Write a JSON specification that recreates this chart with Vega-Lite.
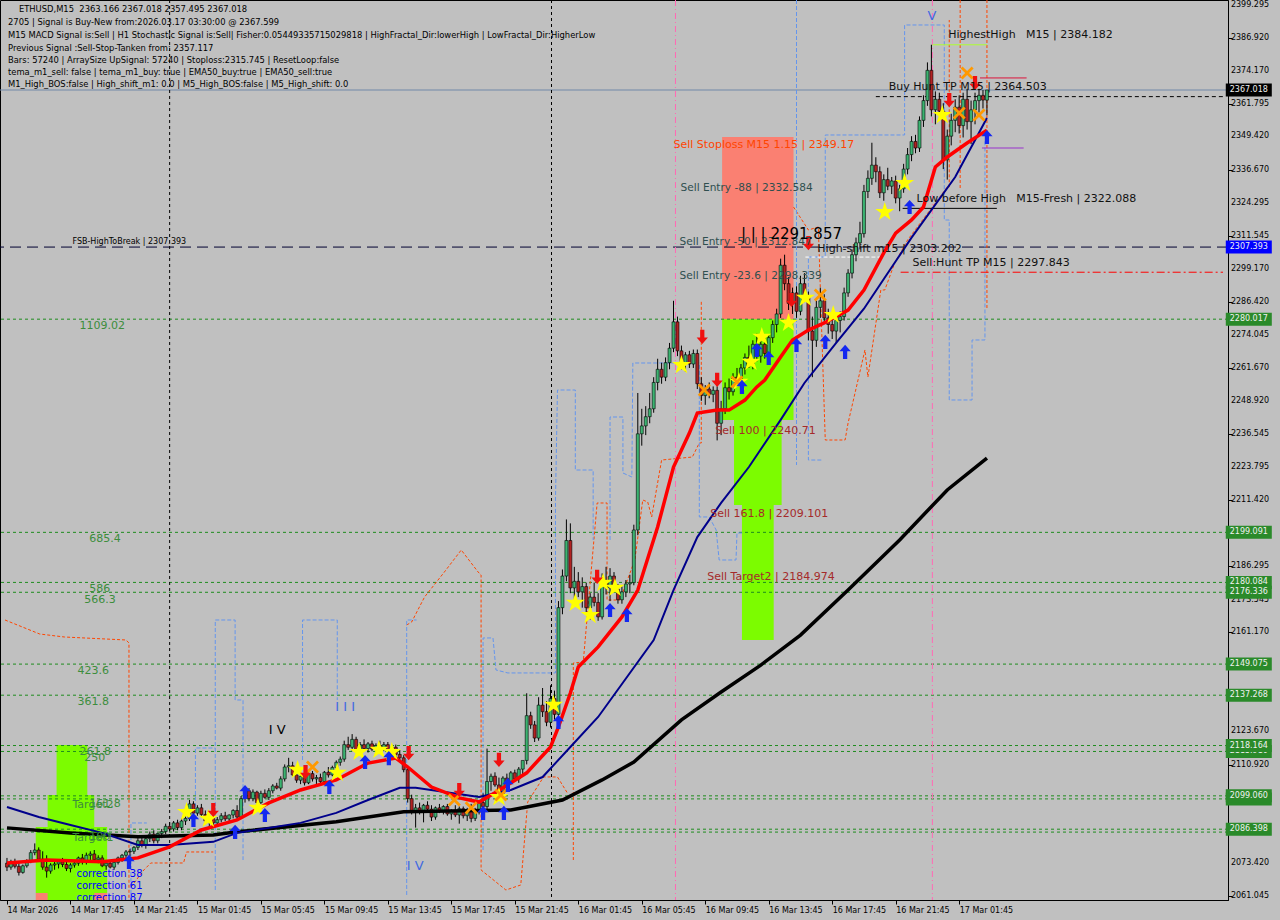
{
"$schema": "https://vega.github.io/schema/vega-lite/v6.json",
"width": 1228, "height": 900,
"autosize": {"type": "none"},
"padding": {"left": 0, "top": 0, "right": 52, "bottom": 20},
"background": "#C0C0C0",
"config": {"view": {"stroke": "#000000", "strokeWidth": 1}, "font": "DejaVu Sans"},
"datasets": {
"candles": [
{"i":0,"o":2073.5,"h":2075.5,"l":2070.5,"c":2072.0},{"i":1,"o":2072.0,"h":2074.8,"l":2071.0,"c":2074.0},{"i":2,"o":2074.0,"h":2075.2,"l":2071.5,"c":2072.3},{"i":3,"o":2072.3,"h":2073.5,"l":2068.8,"c":2070.0},{"i":4,"o":2070.0,"h":2073.0,"l":2069.5,"c":2072.5},{"i":5,"o":2072.5,"h":2075.0,"l":2071.8,"c":2074.5},{"i":6,"o":2074.5,"h":2078.5,"l":2073.5,"c":2077.5},{"i":7,"o":2077.5,"h":2081.0,"l":2076.5,"c":2078.5},{"i":8,"o":2078.5,"h":2079.5,"l":2074.0,"c":2075.0},{"i":9,"o":2075.0,"h":2078.0,"l":2071.0,"c":2072.0},
{"i":10,"o":2072.0,"h":2076.5,"l":2068.0,"c":2070.5},{"i":11,"o":2070.5,"h":2073.5,"l":2069.5,"c":2072.8},{"i":12,"o":2072.8,"h":2074.5,"l":2071.0,"c":2073.2},{"i":13,"o":2073.2,"h":2075.0,"l":2071.5,"c":2074.0},{"i":14,"o":2074.0,"h":2075.5,"l":2072.0,"c":2073.0},{"i":15,"o":2073.0,"h":2074.0,"l":2070.5,"c":2071.5},{"i":16,"o":2071.5,"h":2073.5,"l":2070.0,"c":2072.8},{"i":17,"o":2072.8,"h":2074.5,"l":2071.8,"c":2073.5},{"i":18,"o":2073.5,"h":2076.0,"l":2072.5,"c":2075.5},{"i":19,"o":2075.5,"h":2077.0,"l":2073.0,"c":2074.0},
{"i":20,"o":2074.0,"h":2077.5,"l":2073.0,"c":2076.5},{"i":21,"o":2076.5,"h":2078.0,"l":2074.5,"c":2077.0},{"i":22,"o":2077.0,"h":2078.5,"l":2074.0,"c":2074.8},{"i":23,"o":2074.8,"h":2076.5,"l":2073.5,"c":2075.5},{"i":24,"o":2075.5,"h":2076.5,"l":2072.0,"c":2072.5},{"i":25,"o":2072.5,"h":2074.0,"l":2071.0,"c":2073.5},{"i":26,"o":2073.5,"h":2074.5,"l":2071.5,"c":2072.0},{"i":27,"o":2072.0,"h":2074.0,"l":2071.0,"c":2073.8},{"i":28,"o":2073.8,"h":2076.0,"l":2073.0,"c":2075.5},{"i":29,"o":2075.5,"h":2077.0,"l":2074.0,"c":2076.5},
{"i":30,"o":2076.5,"h":2078.5,"l":2075.5,"c":2077.8},{"i":31,"o":2077.8,"h":2079.0,"l":2076.0,"c":2078.0},{"i":32,"o":2078.0,"h":2080.0,"l":2077.0,"c":2079.5},{"i":33,"o":2079.5,"h":2083.0,"l":2078.5,"c":2082.0},{"i":34,"o":2082.0,"h":2084.0,"l":2079.5,"c":2080.5},{"i":35,"o":2080.5,"h":2083.5,"l":2079.0,"c":2082.8},{"i":36,"o":2082.8,"h":2085.5,"l":2081.5,"c":2084.5},{"i":37,"o":2084.5,"h":2086.0,"l":2081.0,"c":2082.0},{"i":38,"o":2082.0,"h":2085.0,"l":2081.0,"c":2084.8},{"i":39,"o":2084.8,"h":2086.5,"l":2083.0,"c":2085.5},
{"i":40,"o":2085.5,"h":2088.5,"l":2084.5,"c":2087.5},{"i":41,"o":2087.5,"h":2089.0,"l":2085.5,"c":2086.5},{"i":42,"o":2086.5,"h":2089.5,"l":2085.5,"c":2088.8},{"i":43,"o":2088.8,"h":2090.0,"l":2086.0,"c":2087.0},{"i":44,"o":2087.0,"h":2090.5,"l":2086.0,"c":2089.5},{"i":45,"o":2089.5,"h":2092.0,"l":2088.0,"c":2090.5},{"i":46,"o":2090.5,"h":2097.5,"l":2089.5,"c":2096.0},{"i":47,"o":2096.0,"h":2097.0,"l":2091.0,"c":2092.5},{"i":48,"o":2092.5,"h":2095.5,"l":2091.5,"c":2094.5},{"i":49,"o":2094.5,"h":2096.0,"l":2091.0,"c":2092.0},
{"i":50,"o":2092.0,"h":2093.5,"l":2088.5,"c":2089.5},{"i":51,"o":2089.5,"h":2091.5,"l":2087.0,"c":2090.5},{"i":52,"o":2090.5,"h":2092.0,"l":2088.0,"c":2088.8},{"i":53,"o":2088.8,"h":2091.0,"l":2087.5,"c":2090.0},{"i":54,"o":2090.0,"h":2092.5,"l":2089.0,"c":2091.5},{"i":55,"o":2091.5,"h":2093.0,"l":2089.5,"c":2090.3},{"i":56,"o":2090.3,"h":2092.0,"l":2089.0,"c":2091.8},{"i":57,"o":2091.8,"h":2094.0,"l":2090.5,"c":2093.5},{"i":58,"o":2093.5,"h":2095.5,"l":2090.0,"c":2091.0},{"i":59,"o":2091.0,"h":2099.0,"l":2090.5,"c":2098.0},
{"i":60,"o":2098.0,"h":2102.5,"l":2096.5,"c":2101.0},{"i":61,"o":2101.0,"h":2102.0,"l":2097.0,"c":2098.0},{"i":62,"o":2098.0,"h":2101.5,"l":2097.0,"c":2100.5},{"i":63,"o":2100.5,"h":2101.0,"l":2095.5,"c":2096.5},{"i":64,"o":2096.5,"h":2101.0,"l":2096.0,"c":2100.0},{"i":65,"o":2100.0,"h":2101.5,"l":2098.0,"c":2098.5},{"i":66,"o":2098.5,"h":2102.0,"l":2097.5,"c":2101.0},{"i":67,"o":2101.0,"h":2103.5,"l":2100.0,"c":2102.8},{"i":68,"o":2102.8,"h":2104.0,"l":2101.5,"c":2102.0},{"i":69,"o":2102.0,"h":2106.5,"l":2101.0,"c":2105.5},
{"i":70,"o":2105.5,"h":2111.0,"l":2104.5,"c":2110.0},{"i":71,"o":2110.0,"h":2113.5,"l":2108.0,"c":2110.5},{"i":72,"o":2110.5,"h":2112.0,"l":2106.5,"c":2107.0},{"i":73,"o":2107.0,"h":2108.5,"l":2104.0,"c":2105.0},{"i":74,"o":2105.0,"h":2107.5,"l":2103.5,"c":2106.5},{"i":75,"o":2106.5,"h":2107.5,"l":2103.0,"c":2104.0},{"i":76,"o":2104.0,"h":2108.0,"l":2103.5,"c":2107.5},{"i":77,"o":2107.5,"h":2108.5,"l":2104.5,"c":2105.5},{"i":78,"o":2105.5,"h":2107.0,"l":2103.5,"c":2106.0},{"i":79,"o":2106.0,"h":2107.5,"l":2103.5,"c":2104.5},
{"i":80,"o":2104.5,"h":2108.5,"l":2104.0,"c":2108.0},{"i":81,"o":2108.0,"h":2110.0,"l":2106.0,"c":2107.0},{"i":82,"o":2107.0,"h":2110.5,"l":2106.5,"c":2109.8},{"i":83,"o":2109.8,"h":2112.5,"l":2109.0,"c":2111.8},{"i":84,"o":2111.8,"h":2114.0,"l":2110.5,"c":2113.0},{"i":85,"o":2113.0,"h":2120.0,"l":2112.0,"c":2118.5},{"i":86,"o":2118.5,"h":2121.5,"l":2116.5,"c":2117.5},{"i":87,"o":2117.5,"h":2122.5,"l":2116.0,"c":2120.5},{"i":88,"o":2120.5,"h":2121.5,"l":2115.5,"c":2116.5},{"i":89,"o":2116.5,"h":2119.5,"l":2115.0,"c":2118.5},
{"i":90,"o":2118.5,"h":2120.5,"l":2116.5,"c":2117.0},{"i":91,"o":2117.0,"h":2119.5,"l":2115.5,"c":2118.8},{"i":92,"o":2118.8,"h":2120.0,"l":2116.0,"c":2116.8},{"i":93,"o":2116.8,"h":2119.0,"l":2115.5,"c":2118.2},{"i":94,"o":2118.2,"h":2120.0,"l":2116.5,"c":2117.3},{"i":95,"o":2117.3,"h":2119.5,"l":2116.0,"c":2118.5},{"i":96,"o":2118.5,"h":2119.5,"l":2115.5,"c":2116.2},{"i":97,"o":2116.2,"h":2118.5,"l":2115.0,"c":2117.5},{"i":98,"o":2117.5,"h":2118.5,"l":2114.0,"c":2114.8},{"i":99,"o":2114.8,"h":2116.5,"l":2112.5,"c":2113.5},
{"i":100,"o":2113.5,"h":2114.5,"l":2108.0,"c":2109.0},{"i":101,"o":2109.0,"h":2110.5,"l":2096.5,"c":2098.0},{"i":102,"o":2098.0,"h":2099.5,"l":2092.0,"c":2093.5},{"i":103,"o":2093.5,"h":2096.0,"l":2087.0,"c":2094.5},{"i":104,"o":2094.5,"h":2096.5,"l":2092.0,"c":2092.8},{"i":105,"o":2092.8,"h":2096.0,"l":2089.0,"c":2095.5},{"i":106,"o":2095.5,"h":2097.0,"l":2093.0,"c":2094.0},{"i":107,"o":2094.0,"h":2095.5,"l":2089.5,"c":2091.0},{"i":108,"o":2091.0,"h":2095.0,"l":2090.0,"c":2094.5},{"i":109,"o":2094.5,"h":2096.0,"l":2092.5,"c":2093.3},
{"i":110,"o":2093.3,"h":2095.5,"l":2092.0,"c":2095.0},{"i":111,"o":2095.0,"h":2096.0,"l":2091.5,"c":2092.2},{"i":112,"o":2092.2,"h":2094.0,"l":2090.0,"c":2093.5},{"i":113,"o":2093.5,"h":2095.5,"l":2091.0,"c":2091.8},{"i":114,"o":2091.8,"h":2095.0,"l":2088.5,"c":2094.2},{"i":115,"o":2094.2,"h":2095.0,"l":2090.5,"c":2091.5},{"i":116,"o":2091.5,"h":2094.5,"l":2089.5,"c":2093.8},{"i":117,"o":2093.8,"h":2096.0,"l":2089.0,"c":2090.5},{"i":118,"o":2090.5,"h":2094.5,"l":2089.5,"c":2093.0},{"i":119,"o":2093.0,"h":2097.5,"l":2092.0,"c":2096.5},
{"i":120,"o":2096.5,"h":2100.0,"l":2094.0,"c":2095.0},{"i":121,"o":2095.0,"h":2117.0,"l":2094.0,"c":2104.5},{"i":122,"o":2104.5,"h":2107.5,"l":2101.0,"c":2106.5},{"i":123,"o":2106.5,"h":2108.0,"l":2102.5,"c":2103.2},{"i":124,"o":2103.2,"h":2106.0,"l":2098.0,"c":2100.0},{"i":125,"o":2100.0,"h":2106.5,"l":2099.0,"c":2105.8},{"i":126,"o":2105.8,"h":2107.5,"l":2103.5,"c":2104.5},{"i":127,"o":2104.5,"h":2108.5,"l":2103.5,"c":2107.8},{"i":128,"o":2107.8,"h":2109.0,"l":2104.5,"c":2105.5},{"i":129,"o":2105.5,"h":2110.0,"l":2104.0,"c":2109.2},
{"i":130,"o":2109.2,"h":2111.5,"l":2107.0,"c":2112.5},{"i":131,"o":2112.5,"h":2138.0,"l":2111.0,"c":2129.5},{"i":132,"o":2129.5,"h":2131.0,"l":2124.5,"c":2126.0},{"i":133,"o":2126.0,"h":2127.5,"l":2119.5,"c":2121.0},{"i":134,"o":2121.0,"h":2136.5,"l":2120.0,"c":2133.5},{"i":135,"o":2133.5,"h":2140.0,"l":2129.0,"c":2131.0},{"i":136,"o":2131.0,"h":2135.0,"l":2125.5,"c":2127.0},{"i":137,"o":2127.0,"h":2141.0,"l":2125.0,"c":2136.0},{"i":138,"o":2136.0,"h":2139.0,"l":2128.0,"c":2130.0},{"i":139,"o":2130.0,"h":2173.0,"l":2129.0,"c":2170.5},
{"i":140,"o":2170.5,"h":2185.0,"l":2168.0,"c":2182.5},{"i":141,"o":2182.5,"h":2204.0,"l":2180.5,"c":2196.0},{"i":142,"o":2196.0,"h":2202.5,"l":2176.0,"c":2178.0},{"i":143,"o":2178.0,"h":2186.0,"l":2172.0,"c":2180.5},{"i":144,"o":2180.5,"h":2184.0,"l":2174.5,"c":2176.5},{"i":145,"o":2176.5,"h":2182.0,"l":2170.5,"c":2178.5},{"i":146,"o":2178.5,"h":2180.0,"l":2168.0,"c":2170.5},{"i":147,"o":2170.5,"h":2176.0,"l":2166.0,"c":2174.5},{"i":148,"o":2174.5,"h":2180.0,"l":2171.0,"c":2172.5},{"i":149,"o":2172.5,"h":2176.0,"l":2165.5,"c":2167.0},
{"i":150,"o":2167.0,"h":2183.5,"l":2166.0,"c":2181.0},{"i":151,"o":2181.0,"h":2186.0,"l":2175.5,"c":2178.0},{"i":152,"o":2178.0,"h":2185.5,"l":2173.0,"c":2182.5},{"i":153,"o":2182.5,"h":2184.0,"l":2176.5,"c":2177.5},{"i":154,"o":2177.5,"h":2179.5,"l":2172.0,"c":2173.5},{"i":155,"o":2173.5,"h":2178.5,"l":2172.0,"c":2176.5},{"i":156,"o":2176.5,"h":2181.0,"l":2174.5,"c":2179.5},{"i":157,"o":2179.5,"h":2183.0,"l":2176.0,"c":2180.0},{"i":158,"o":2180.0,"h":2202.0,"l":2179.0,"c":2200.0},{"i":159,"o":2200.0,"h":2252.0,"l":2198.0,"c":2236.5},
{"i":160,"o":2236.5,"h":2246.0,"l":2232.0,"c":2239.5},{"i":161,"o":2239.5,"h":2247.0,"l":2236.0,"c":2243.0},{"i":162,"o":2243.0,"h":2252.0,"l":2240.5,"c":2246.0},{"i":163,"o":2246.0,"h":2258.0,"l":2244.5,"c":2256.0},{"i":164,"o":2256.0,"h":2265.0,"l":2253.0,"c":2261.0},{"i":165,"o":2261.0,"h":2263.5,"l":2255.5,"c":2258.0},{"i":166,"o":2258.0,"h":2265.5,"l":2256.5,"c":2263.5},{"i":167,"o":2263.5,"h":2271.0,"l":2261.0,"c":2269.0},{"i":168,"o":2269.0,"h":2287.0,"l":2267.5,"c":2279.0},{"i":169,"o":2279.0,"h":2281.0,"l":2266.0,"c":2268.0},
{"i":170,"o":2268.0,"h":2270.0,"l":2261.0,"c":2263.5},{"i":171,"o":2263.5,"h":2267.5,"l":2260.0,"c":2266.5},{"i":172,"o":2266.5,"h":2268.0,"l":2261.5,"c":2263.0},{"i":173,"o":2263.0,"h":2268.5,"l":2261.5,"c":2267.0},{"i":174,"o":2267.0,"h":2268.5,"l":2253.5,"c":2255.5},{"i":175,"o":2255.5,"h":2258.0,"l":2249.0,"c":2251.0},{"i":176,"o":2251.0,"h":2255.0,"l":2247.5,"c":2253.5},{"i":177,"o":2253.5,"h":2256.0,"l":2250.0,"c":2251.5},{"i":178,"o":2251.5,"h":2254.5,"l":2248.5,"c":2253.0},{"i":179,"o":2253.0,"h":2254.5,"l":2234.0,"c":2240.5},
{"i":180,"o":2240.5,"h":2249.0,"l":2236.0,"c":2246.0},{"i":181,"o":2246.0,"h":2256.0,"l":2244.0,"c":2254.0},{"i":182,"o":2254.0,"h":2257.5,"l":2249.5,"c":2252.5},{"i":183,"o":2252.5,"h":2259.5,"l":2251.0,"c":2258.0},{"i":184,"o":2258.0,"h":2261.5,"l":2254.5,"c":2256.5},{"i":185,"o":2256.5,"h":2263.0,"l":2255.0,"c":2261.5},{"i":186,"o":2261.5,"h":2267.0,"l":2259.0,"c":2265.5},{"i":187,"o":2265.5,"h":2270.0,"l":2261.5,"c":2263.0},{"i":188,"o":2263.0,"h":2272.0,"l":2261.0,"c":2270.5},{"i":189,"o":2270.5,"h":2274.5,"l":2264.0,"c":2266.0},
{"i":190,"o":2266.0,"h":2272.0,"l":2263.5,"c":2270.5},{"i":191,"o":2270.5,"h":2273.0,"l":2265.0,"c":2267.0},{"i":192,"o":2267.0,"h":2274.0,"l":2266.0,"c":2273.0},{"i":193,"o":2273.0,"h":2279.5,"l":2271.0,"c":2278.0},{"i":194,"o":2278.0,"h":2284.0,"l":2275.0,"c":2282.0},{"i":195,"o":2282.0,"h":2303.0,"l":2280.5,"c":2300.5},{"i":196,"o":2300.5,"h":2304.5,"l":2291.0,"c":2293.5},{"i":197,"o":2293.5,"h":2296.0,"l":2283.5,"c":2286.0},{"i":198,"o":2286.0,"h":2292.0,"l":2282.0,"c":2290.0},{"i":199,"o":2290.0,"h":2292.5,"l":2280.5,"c":2283.0},
{"i":200,"o":2283.0,"h":2296.5,"l":2281.5,"c":2293.5},{"i":201,"o":2293.5,"h":2297.5,"l":2286.5,"c":2288.5},{"i":202,"o":2288.5,"h":2290.5,"l":2272.0,"c":2275.5},{"i":203,"o":2275.5,"h":2281.0,"l":2258.0,"c":2272.0},{"i":204,"o":2272.0,"h":2287.0,"l":2269.5,"c":2284.5},{"i":205,"o":2284.5,"h":2292.0,"l":2280.5,"c":2287.0},{"i":206,"o":2287.0,"h":2289.5,"l":2278.5,"c":2280.5},{"i":207,"o":2280.5,"h":2284.0,"l":2274.5,"c":2278.0},{"i":208,"o":2278.0,"h":2282.5,"l":2272.5,"c":2275.5},{"i":209,"o":2275.5,"h":2280.5,"l":2271.0,"c":2279.5},
{"i":210,"o":2279.5,"h":2283.0,"l":2275.0,"c":2281.0},{"i":211,"o":2281.0,"h":2292.0,"l":2279.5,"c":2290.0},{"i":212,"o":2290.0,"h":2299.0,"l":2288.5,"c":2297.5},{"i":213,"o":2297.5,"h":2306.5,"l":2295.5,"c":2304.5},{"i":214,"o":2304.5,"h":2311.0,"l":2302.0,"c":2309.0},{"i":215,"o":2309.0,"h":2317.0,"l":2306.5,"c":2312.5},{"i":216,"o":2312.5,"h":2331.0,"l":2311.0,"c":2328.5},{"i":217,"o":2328.5,"h":2336.5,"l":2326.0,"c":2333.5},{"i":218,"o":2333.5,"h":2347.0,"l":2331.0,"c":2338.5},{"i":219,"o":2338.5,"h":2341.5,"l":2332.0,"c":2336.0},
{"i":220,"o":2336.0,"h":2338.0,"l":2326.0,"c":2328.0},{"i":221,"o":2328.0,"h":2335.0,"l":2325.0,"c":2333.0},{"i":222,"o":2333.0,"h":2337.5,"l":2329.0,"c":2330.5},{"i":223,"o":2330.5,"h":2334.0,"l":2327.5,"c":2332.5},{"i":224,"o":2332.5,"h":2334.5,"l":2324.0,"c":2326.0},{"i":225,"o":2326.0,"h":2331.0,"l":2321.0,"c":2329.5},{"i":226,"o":2329.5,"h":2339.0,"l":2328.0,"c":2337.0},{"i":227,"o":2337.0,"h":2345.0,"l":2335.0,"c":2342.5},{"i":228,"o":2342.5,"h":2349.5,"l":2340.0,"c":2347.5},{"i":229,"o":2347.5,"h":2350.0,"l":2343.0,"c":2345.0},
{"i":230,"o":2345.0,"h":2357.0,"l":2343.5,"c":2355.5},{"i":231,"o":2355.5,"h":2365.0,"l":2353.0,"c":2363.0},{"i":232,"o":2363.0,"h":2377.5,"l":2361.0,"c":2374.5},{"i":233,"o":2374.5,"h":2384.2,"l":2357.0,"c":2359.5},{"i":234,"o":2359.5,"h":2366.5,"l":2354.0,"c":2363.5},{"i":235,"o":2363.5,"h":2366.0,"l":2357.5,"c":2359.0},{"i":236,"o":2359.0,"h":2362.0,"l":2337.0,"c":2340.5},{"i":237,"o":2340.5,"h":2352.0,"l":2333.0,"c":2349.5},{"i":238,"o":2349.5,"h":2358.0,"l":2346.0,"c":2355.5},{"i":239,"o":2355.5,"h":2363.5,"l":2351.0,"c":2360.5},
{"i":240,"o":2360.5,"h":2365.0,"l":2350.5,"c":2353.5},{"i":241,"o":2353.5,"h":2366.0,"l":2349.0,"c":2363.5},{"i":242,"o":2363.5,"h":2367.5,"l":2352.0,"c":2355.0},{"i":243,"o":2355.0,"h":2363.0,"l":2346.5,"c":2359.5},{"i":244,"o":2359.5,"h":2366.0,"l":2354.0,"c":2363.0},{"i":245,"o":2363.0,"h":2367.5,"l":2358.5,"c":2365.0},{"i":246,"o":2365.0,"h":2367.0,"l":2360.0,"c":2363.2},{"i":247,"o":2363.166,"h":2367.018,"l":2357.495,"c":2367.018}
],
"emaFast": [
{"i":0,"p":2073.6},{"i":10,"p":2074.7},{"i":24,"p":2074.0},{"i":33,"p":2075.5},{"i":41,"p":2079.7},{"i":49,"p":2086.1},{"i":58,"p":2089.9},{"i":66,"p":2096.4},{"i":74,"p":2101.3},{"i":83,"p":2105.1},{"i":91,"p":2111.5},{"i":98,"p":2113.4},{"i":101,"p":2110.0},{"i":107,"p":2102.4},{"i":114,"p":2098.3},{"i":119,"p":2096.7},{"i":123,"p":2100.2},{"i":131,"p":2107.8},{"i":137,"p":2117.6},{"i":139,"p":2125.2},{"i":142,"p":2138.1},{"i":144,"p":2148.0},{"i":149,"p":2155.6},{"i":155,"p":2167.0},{"i":159,"p":2177.2},{"i":164,"p":2201.1},{"i":168,"p":2223.9},{"i":172,"p":2236.8},{"i":174,"p":2244.4},{"i":179,"p":2245.5},{"i":182,"p":2245.5},{"i":186,"p":2249.3},{"i":189,"p":2254.3},{"i":191,"p":2256.9},{"i":195,"p":2265.7},{"i":198,"p":2272.1},{"i":202,"p":2275.9},{"i":206,"p":2278.6},{"i":212,"p":2283.5},{"i":216,"p":2291.1},{"i":221,"p":2305.2},{"i":224,"p":2312.7},{"i":228,"p":2317.7},{"i":231,"p":2322.6},{"i":234,"p":2337.8},{"i":237,"p":2341.6},{"i":242,"p":2346.9},{"i":247,"p":2351.8}
],
"emaMid": [
{"i":0,"p":2094.8},{"i":8,"p":2091.0},{"i":16,"p":2088.0},{"i":24,"p":2085.0},{"i":33,"p":2080.4},{"i":41,"p":2080.4},{"i":52,"p":2081.6},{"i":58,"p":2085.0},{"i":74,"p":2088.8},{"i":83,"p":2092.6},{"i":91,"p":2097.5},{"i":99,"p":2102.1},{"i":103,"p":2102.1},{"i":119,"p":2098.6},{"i":127,"p":2101.3},{"i":135,"p":2106.2},{"i":142,"p":2117.6},{"i":149,"p":2129.0},{"i":163,"p":2158.2},{"i":168,"p":2177.2},{"i":174,"p":2197.3},{"i":180,"p":2210.3},{"i":187,"p":2223.9},{"i":195,"p":2241.8},{"i":201,"p":2255.8},{"i":209,"p":2271.0},{"i":216,"p":2284.0},{"i":220,"p":2293.0},{"i":224,"p":2302.0},{"i":228,"p":2311.0},{"i":239,"p":2334.0},{"i":247,"p":2356.4}
],
"emaSlow": [
{"i":0,"p":2086.9},{"i":16,"p":2085.0},{"i":33,"p":2083.5},{"i":52,"p":2084.2},{"i":58,"p":2085.4},{"i":83,"p":2089.2},{"i":100,"p":2093.0},{"i":127,"p":2093.7},{"i":131,"p":2094.8},{"i":140,"p":2097.5},{"i":150,"p":2105.1},{"i":158,"p":2111.9},{"i":170,"p":2127.9},{"i":180,"p":2138.5},{"i":190,"p":2148.7},{"i":200,"p":2160.1},{"i":212,"p":2177.2},{"i":225,"p":2196.2},{"i":237,"p":2215.2},{"i":247,"p":2227.3}
],
"bands": [
{"line":"o1","seq":1,"i":-0.5,"p":2165.82},{"line":"o1","seq":2,"i":8.25,"p":2160.5},{"line":"o1","seq":3,"i":14.5,"p":2159.36},{"line":"o1","seq":4,"i":30,"p":2158.23},{"line":"o1","seq":5,"i":30.75,"p":2157.09},{"line":"o1","seq":6,"i":30.75,"p":2059.52},
{"line":"o2","seq":1,"i":31.25,"p":2064.46},{"line":"o2","seq":2,"i":34.5,"p":2070.91},{"line":"o2","seq":3,"i":36.25,"p":2073.57},{"line":"o2","seq":4,"i":44.5,"p":2073.57},{"line":"o2","seq":5,"i":45.25,"p":2077.75},{"line":"o2","seq":6,"i":52,"p":2077.75},
{"line":"o3","seq":1,"i":100.75,"p":2163.92},{"line":"o3","seq":2,"i":102,"p":2165.06},{"line":"o3","seq":3,"i":105.25,"p":2174.55},{"line":"o3","seq":4,"i":110.25,"p":2184.04},{"line":"o3","seq":5,"i":114.5,"p":2192.39},{"line":"o3","seq":6,"i":118.75,"p":2184.04},{"line":"o3","seq":7,"i":119.5,"p":2182.9},{"line":"o3","seq":8,"i":119.5,"p":2070.91},{"line":"o3","seq":9,"i":125.75,"p":2063.32},{"line":"o3","seq":10,"i":129.5,"p":2065.22},{"line":"o3","seq":11,"i":131.25,"p":2096.72},{"line":"o3","seq":12,"i":135.25,"p":2106.23},{"line":"o3","seq":13,"i":138.75,"p":2106.23},{"line":"o3","seq":14,"i":141.25,"p":2100.15},
{"line":"o4","seq":1,"i":142.75,"p":2074.7},{"line":"o4","seq":2,"i":142.75,"p":2149.5},{"line":"o4","seq":3,"i":145.25,"p":2149.88},{"line":"o4","seq":4,"i":148.75,"p":2210.24},{"line":"o4","seq":5,"i":151.25,"p":2210.24},{"line":"o4","seq":6,"i":151.25,"p":2173.41},{"line":"o4","seq":7,"i":154.5,"p":2173.41},{"line":"o4","seq":8,"i":158.25,"p":2188.6},{"line":"o4","seq":9,"i":160.25,"p":2211.38},{"line":"o4","seq":10,"i":161.5,"p":2210.62},{"line":"o4","seq":11,"i":162.5,"p":2204.93},{"line":"o4","seq":12,"i":165,"p":2226.55},{"line":"o4","seq":13,"i":172.75,"p":2227.69},{"line":"o4","seq":14,"i":174.5,"p":2233.01},{"line":"o4","seq":15,"i":175,"p":2233.01},{"line":"o4","seq":16,"i":175,"p":2287.3},
{"line":"o6","seq":1,"i":198.25,"p":2322.61},{"line":"o6","seq":2,"i":202,"p":2313.88},{"line":"o6","seq":3,"i":204.5,"p":2315.02},{"line":"o6","seq":4,"i":206.25,"p":2234.15},{"line":"o6","seq":5,"i":211.25,"p":2234.15},{"line":"o6","seq":6,"i":212,"p":2240.6},{"line":"o6","seq":7,"i":213.75,"p":2251.99},{"line":"o6","seq":8,"i":216.25,"p":2268.32},{"line":"o6","seq":9,"i":217,"p":2258.07},{"line":"o6","seq":10,"i":220.25,"p":2291.1},{"line":"o6","seq":11,"i":221.25,"p":2291.1},{"line":"o6","seq":12,"i":223.75,"p":2301.35},{"line":"o6","seq":13,"i":227,"p":2310.08},{"line":"o6","seq":14,"i":237,"p":2330.2},{"line":"o6","seq":15,"i":237.5,"p":2330.2},{"line":"o6","seq":16,"i":237.5,"p":2393.6},
{"line":"o7","seq":1,"i":240.25,"p":2401.19},{"line":"o7","seq":2,"i":240.25,"p":2329.06},
{"line":"o8","seq":1,"i":247,"p":2401.19},{"line":"o8","seq":2,"i":247,"p":2283.5},
{"line":"b1","seq":1,"i":31.25,"p":2059.52},{"line":"b1","seq":2,"i":31.25,"p":2088.76},{"line":"b1","seq":3,"i":35.25,"p":2088.76},
{"line":"b2","seq":1,"i":47.5,"p":2094.83},{"line":"b2","seq":2,"i":47.5,"p":2117.23},{"line":"b2","seq":3,"i":52.5,"p":2117.23},
{"line":"b3","seq":1,"i":52.5,"p":2063.32},{"line":"b3","seq":2,"i":52.5,"p":2165.82},{"line":"b3","seq":3,"i":57.5,"p":2165.82},{"line":"b3","seq":4,"i":57.5,"p":2135.45},{"line":"b3","seq":5,"i":59.5,"p":2135.45},{"line":"b3","seq":6,"i":59.5,"p":2074.7},
{"line":"b4","seq":1,"i":74.5,"p":2112.67},{"line":"b4","seq":2,"i":74.5,"p":2165.82},{"line":"b4","seq":3,"i":83.25,"p":2165.82},{"line":"b4","seq":4,"i":83.25,"p":2135.45},
{"line":"b5","seq":1,"i":100.75,"p":2061.43},{"line":"b5","seq":2,"i":100.75,"p":2165.82},{"line":"b5","seq":3,"i":103.25,"p":2165.82},
{"line":"b6","seq":1,"i":120,"p":2078.51},{"line":"b6","seq":2,"i":120,"p":2159.0},{"line":"b6","seq":3,"i":122.5,"p":2159.0},{"line":"b6","seq":4,"i":123.25,"p":2146.85},{"line":"b6","seq":5,"i":126.25,"p":2145.71},{"line":"b6","seq":6,"i":138.25,"p":2145.71},{"line":"b6","seq":7,"i":138.25,"p":2211.38},{"line":"b6","seq":8,"i":138.75,"p":2253.13},{"line":"b6","seq":9,"i":143.25,"p":2253.13},{"line":"b6","seq":10,"i":143.25,"p":2222.76},{"line":"b6","seq":11,"i":147.75,"p":2222.76},{"line":"b6","seq":12,"i":147.75,"p":2196.19},
{"line":"b7","seq":1,"i":152,"p":2196.19},{"line":"b7","seq":2,"i":152,"p":2242.88},{"line":"b7","seq":3,"i":155.25,"p":2242.88},{"line":"b7","seq":4,"i":155.25,"p":2221.62},{"line":"b7","seq":5,"i":157.5,"p":2220.1},{"line":"b7","seq":6,"i":157.75,"p":2263.38},{"line":"b7","seq":7,"i":174.5,"p":2263.38},{"line":"b7","seq":8,"i":174.5,"p":2204.93},{"line":"b7","seq":9,"i":177,"p":2204.93},{"line":"b7","seq":10,"i":178.75,"p":2199.99},{"line":"b7","seq":11,"i":179.5,"p":2188.6},{"line":"b7","seq":12,"i":183.75,"p":2188.6},{"line":"b7","seq":13,"i":184,"p":2198.85},{"line":"b7","seq":14,"i":185.75,"p":2198.85},
{"line":"b8","seq":1,"i":199,"p":2401.19},{"line":"b8","seq":2,"i":199,"p":2224.66},
{"line":"b9","seq":1,"i":205.25,"p":2226.55},{"line":"b9","seq":2,"i":202,"p":2226.55},{"line":"b9","seq":3,"i":202,"p":2303.63},{"line":"b9","seq":4,"i":206.25,"p":2303.63},{"line":"b9","seq":5,"i":206.25,"p":2349.94},{"line":"b9","seq":6,"i":226.25,"p":2349.94},{"line":"b9","seq":7,"i":226.25,"p":2391.7},{"line":"b9","seq":8,"i":236.25,"p":2391.7},{"line":"b9","seq":9,"i":236.25,"p":2317.67},{"line":"b9","seq":10,"i":237.5,"p":2317.67},{"line":"b9","seq":11,"i":237.5,"p":2249.34},{"line":"b9","seq":12,"i":243.25,"p":2249.34},{"line":"b9","seq":13,"i":243.25,"p":2272.12},{"line":"b9","seq":14,"i":246.5,"p":2272.12},{"line":"b9","seq":15,"i":246.5,"p":2348.04}
],
"levels": [
{"p":2280.017,"kind":"fib"},{"p":2199.091,"kind":"fib"},{"p":2180.084,"kind":"fib"},{"p":2176.336,"kind":"fib"},{"p":2149.075,"kind":"fib"},{"p":2137.268,"kind":"fib"},{"p":2118.164,"kind":"fib"},{"p":2115.91,"kind":"fib"},{"p":2099.06,"kind":"fib"},{"p":2097.9,"kind":"fib"},{"p":2086.398,"kind":"fib"},{"p":2085.3,"kind":"fib"},
{"p":2307.393,"kind":"fsb"},{"p":2367.018,"kind":"price"}
],
"segments": [
{"i1":225.25,"i2":306.5,"p":2297.843,"kind":"sellhunt"},
{"i1":219,"i2":306.5,"p":2364.503,"kind":"buyhunt"},
{"i1":225.75,"i2":249.5,"p":2322.088,"kind":"lowbefore"},
{"i1":233.25,"i2":247,"p":2384.182,"kind":"highest"},
{"i1":245.25,"i2":257,"p":2371.6,"kind":"crimson"},
{"i1":245.75,"i2":256.25,"p":2345.0,"kind":"purple"},
{"i1":201.25,"i2":220.25,"p":2303.6,"kind":"highshift"}
],
"vlines": [
{"i":41,"kind":"day"},{"i":137.25,"kind":"day"},{"i":168.5,"kind":"pink"},{"i":233.25,"kind":"pink"}
],
"zones": [
{"i1":180.25,"i2":198.25,"p1":2280.0,"p2":2349.17,"kind":"sell"},
{"i1":180.25,"i2":198.25,"p1":2241.75,"p2":2280.0,"kind":"buy"},
{"i1":183.25,"i2":195.25,"p1":2209.5,"p2":2241.75,"kind":"buy"},
{"i1":185.25,"i2":193.25,"p1":2158.2,"p2":2209.5,"kind":"buy"},
{"i1":12.5,"i2":20.25,"p1":2059.52,"p2":2118.4,"kind":"buy"},
{"i1":10.25,"i2":22,"p1":2059.52,"p2":2099.4,"kind":"buy"},
{"i1":7.25,"i2":25.25,"p1":2062.2,"p2":2087.2,"kind":"buy"},
{"i1":7.25,"i2":25.25,"p1":2059.52,"p2":2062.2,"kind":"sell"}
],
"signals": [
{"i":45.25,"p":2092.9,"type":"star"},{"i":50.75,"p":2090.3,"type":"star"},{"i":63.25,"p":2094.5,"type":"star"},{"i":73.25,"p":2108.9,"type":"star"},{"i":83.25,"p":2107.8,"type":"star"},{"i":88.75,"p":2115.7,"type":"star"},{"i":93.75,"p":2116.5,"type":"star"},{"i":97,"p":2115.7,"type":"star"},{"i":124,"p":2098.6,"type":"star"},{"i":137.75,"p":2133.6,"type":"star"},{"i":143.25,"p":2172.3,"type":"star"},{"i":147,"p":2167.7,"type":"star"},{"i":150.25,"p":2179.9,"type":"star"},{"i":153.25,"p":2178.0,"type":"star"},{"i":170,"p":2262.6,"type":"star"},{"i":184.5,"p":2256.2,"type":"star"},{"i":187.5,"p":2263.8,"type":"star"},{"i":190.25,"p":2273.3,"type":"star"},{"i":197,"p":2278.6,"type":"star"},{"i":201.25,"p":2288.1,"type":"star"},{"i":208.25,"p":2281.6,"type":"star"},{"i":221.25,"p":2320.7,"type":"star"},{"i":226.25,"p":2331.7,"type":"star"},{"i":235.75,"p":2357.5,"type":"star"},
{"i":77,"p":2110.0,"type":"x"},{"i":112.75,"p":2097.5,"type":"x"},{"i":117,"p":2094.5,"type":"x"},{"i":124.5,"p":2099.4,"type":"x"},{"i":175.75,"p":2253.1,"type":"x"},{"i":184,"p":2256.2,"type":"x"},{"i":205,"p":2289.2,"type":"x"},{"i":240,"p":2358.3,"type":"x"},{"i":242,"p":2373.5,"type":"x"},{"i":245,"p":2357.5,"type":"x"},
{"i":30.75,"p":2074.0,"type":"up"},{"i":47,"p":2089.9,"type":"up"},{"i":57.5,"p":2085.4,"type":"up"},{"i":60,"p":2100.5,"type":"up"},{"i":65,"p":2091.8,"type":"up"},{"i":81.25,"p":2102.4,"type":"up"},{"i":90.25,"p":2111.9,"type":"up"},{"i":96.25,"p":2113.4,"type":"up"},{"i":120,"p":2092.6,"type":"up"},{"i":125.25,"p":2092.6,"type":"up"},{"i":126.25,"p":2103.2,"type":"up"},{"i":139,"p":2127.1,"type":"up"},{"i":152,"p":2169.6,"type":"up"},{"i":156.25,"p":2167.7,"type":"up"},{"i":185.25,"p":2254.3,"type":"up"},{"i":189,"p":2268.3,"type":"up"},{"i":192,"p":2265.3,"type":"up"},{"i":199,"p":2270.2,"type":"up"},{"i":206.25,"p":2271.4,"type":"up"},{"i":211.25,"p":2267.6,"type":"up"},{"i":227.5,"p":2322.6,"type":"up"},{"i":247,"p":2349.2,"type":"up"},
{"i":52,"p":2093.7,"type":"down"},{"i":75.25,"p":2108.1,"type":"down"},{"i":101.25,"p":2115.3,"type":"down"},{"i":114,"p":2101.3,"type":"down"},{"i":124,"p":2112.7,"type":"down"},{"i":148.75,"p":2182.2,"type":"down"},{"i":175.25,"p":2273.3,"type":"down"},{"i":179,"p":2257.0,"type":"down"},{"i":197.75,"p":2287.3,"type":"down"},{"i":202,"p":2308.9,"type":"down"},{"i":237.5,"p":2363.2,"type":"down"},{"i":244,"p":2369.7,"type":"down"}
],
"labels": [
{"i":3,"p":2397.77,"text":"ETHUSD,M15\u00a0\u00a02363.166 2367.018 2357.495 2367.018","kind":"header"},
{"i":0.25,"p":2392.84,"text":"2705 | Signal is Buy-New from:2026.03.17 03:30:00 @ 2367.599","kind":"header"},
{"i":0.25,"p":2387.9,"text":"M15 MACD Signal is:Sell | H1 Stochastic Signal is:Sell| Fisher:0.05449335715029818 | HighFractal_Dir:lowerHigh | LowFractal_Dir:HigherLow","kind":"header"},
{"i":0.25,"p":2382.97,"text":"Previous Signal :Sell-Stop-Tanken from: 2357.117","kind":"header"},
{"i":0.25,"p":2378.41,"text":"Bars: 57240 | ArraySize UpSignal: 57240 | Stoploss:2315.745 | ResetLoop:false","kind":"header"},
{"i":0.25,"p":2373.86,"text":"tema_m1_sell: false | tema_m1_buy: true | EMA50_buy:true | EMA50_sell:true","kind":"header"},
{"i":0.25,"p":2369.3,"text":"M1_High_BOS:false | High_shift_m1: 0.0 | M5_High_BOS:false | M5_High_shift: 0.0","kind":"header"},
{"i":168,"p":2346.2,"text":"Sell Stoploss M15 1.15 | 2349.17","kind":"stop"},
{"i":169.75,"p":2329.8,"text":"Sell Entry -88 | 2332.584","kind":"entry"},
{"i":169.5,"p":2309.3,"text":"Sell Entry -50 | 2312.847","kind":"entry"},
{"i":169.5,"p":2296.4,"text":"Sell Entry -23.6 | 2298.339","kind":"entry"},
{"i":185,"p":2312.4,"text":"| | | 2291.857","kind":"big"},
{"i":204.25,"p":2306.7,"text":"High-shift m15 | 2303.202","kind":"note"},
{"i":228.25,"p":2301.4,"text":"Sell:Hunt TP M15 | 2297.843","kind":"note"},
{"i":229.25,"p":2325.6,"text":"Low before High\u00a0\u00a0\u00a0M15-Fresh | 2322.088","kind":"note"},
{"i":237.25,"p":2387.9,"text":"HighestHigh\u00a0\u00a0\u00a0M15 | 2384.182","kind":"note"},
{"i":222.25,"p":2368.2,"text":"Buy Hunt TP M15 | 2364.503","kind":"note"},
{"i":178.5,"p":2237.6,"text":"Sell 100 | 2240.71","kind":"sell"},
{"i":177.25,"p":2206.1,"text":"Sell 161.8 | 2209.101","kind":"sell"},
{"i":176.5,"p":2182.2,"text":"Sell Target2 | 2184.974","kind":"sell"},
{"i":16.5,"p":2309.3,"text":"FSB-HighToBreak | 2307.393","kind":"small"},
{"i":18.25,"p":2277.4,"text":"1109.02","kind":"fib"},
{"i":20.75,"p":2196.6,"text":"685.4","kind":"fib"},
{"i":20.75,"p":2177.6,"text":"586","kind":"fib"},
{"i":19.5,"p":2173.4,"text":"566.3","kind":"fib"},
{"i":17.75,"p":2146.5,"text":"423.6","kind":"fib"},
{"i":17.75,"p":2134.7,"text":"361.8","kind":"fib"},
{"i":18.25,"p":2115.7,"text":"261.8","kind":"fib"},
{"i":19.5,"p":2113.4,"text":"250","kind":"fib"},
{"i":16.5,"p":2095.6,"text":"Target2","kind":"fib"},
{"i":20.75,"p":2096.0,"text":"161.8","kind":"fib"},
{"i":16.5,"p":2083.1,"text":"Target1","kind":"fib"},
{"i":20.75,"p":2083.5,"text":"100","kind":"fib"},
{"i":17.5,"p":2069.4,"text":"correction 38","kind":"corr"},
{"i":17.5,"p":2064.9,"text":"correction 61","kind":"corr"},
{"i":17.5,"p":2060.3,"text":"correction 87","kind":"corr"},
{"i":66,"p":2124.1,"text":"I V","kind":"wave"},
{"i":82.75,"p":2132.8,"text":"I I I","kind":"waveblue"},
{"i":100.75,"p":2072.5,"text":"I V","kind":"waveblue"},
{"i":232,"p":2395.1,"text":"V","kind":"waveblue"}
],
"yticks": [
{"p":2399.295},{"p":2386.92},{"p":2374.17},{"p":2361.795},{"p":2349.42},{"p":2336.67},{"p":2324.295},{"p":2311.545},{"p":2299.17},{"p":2286.42},{"p":2274.045},{"p":2261.67},{"p":2248.92},{"p":2236.545},{"p":2223.795},{"p":2211.42},{"p":2198.67},{"p":2186.295},{"p":2173.545},{"p":2161.17},{"p":2148.42},{"p":2136.045},{"p":2123.67},{"p":2110.92},{"p":2098.545},{"p":2085.795},{"p":2073.42},{"p":2061.045}
],
"tags": [
{"p":2367.018,"text":"2367.018","kind":"price"},
{"p":2307.393,"text":"2307.393","kind":"fsb"},
{"p":2280.017,"text":"2280.017","kind":"fib"},
{"p":2199.091,"text":"2199.091","kind":"fib"},
{"p":2180.084,"text":"2180.084","kind":"fib"},
{"p":2176.336,"text":"2176.336","kind":"fib"},
{"p":2149.075,"text":"2149.075","kind":"fib"},
{"p":2137.268,"text":"2137.268","kind":"fib"},
{"p":2115.91,"text":"2115.910","kind":"fib"},
{"p":2118.164,"text":"2118.164","kind":"fib"},
{"p":2097.9,"text":"2097.900","kind":"fib"},
{"p":2099.06,"text":"2099.060","kind":"fib"},
{"p":2086.398,"text":"2086.398","kind":"fib"}
]
},
"layer": [
{"data": {"name": "zones"}, "transform": [{"filter": "datum.kind == 'sell'"}],
 "mark": {"type": "rect", "color": "#FA8072"},
 "encoding": {
  "x": {"field": "i1", "type": "quantitative", "scale": {"domain": [-0.5, 306.5], "nice": false, "zero": false},
   "axis": {"values": [0,16,32,48,64,80,96,112,128,144,160,176,192,208,224,240], "labelExpr": "['14 Mar 2026','14 Mar 17:45','14 Mar 21:45','15 Mar 01:45','15 Mar 05:45','15 Mar 09:45','15 Mar 13:45','15 Mar 17:45','15 Mar 21:45','16 Mar 01:45','16 Mar 05:45','16 Mar 09:45','16 Mar 13:45','16 Mar 17:45','16 Mar 21:45','17 Mar 01:45'][round(datum.value/16)]", "labelAlign": "left", "labelFontSize": 8, "labelFont": "DejaVu Sans", "labelColor": "#000000", "tickColor": "#000000", "domainColor": "#000000", "tickSize": 4, "labelPadding": 2, "grid": false, "title": null, "labelOverlap": false, "labelFlush": false, "disable": false}},
  "x2": {"field": "i2"},
  "y": {"field": "p1", "type": "quantitative", "scale": {"domain": [2059.52, 2401.19], "nice": false, "zero": false},
   "axis": {"orient": "right", "values": [2399.295,2386.92,2374.17,2361.795,2349.42,2336.67,2324.295,2311.545,2299.17,2286.42,2274.045,2261.67,2248.92,2236.545,2223.795,2211.42,2198.67,2186.295,2173.545,2161.17,2148.42,2136.045,2123.67,2110.92,2098.545,2085.795,2073.42,2061.045], "labels": false, "tickColor": "#000000", "domainColor": "#000000", "tickSize": 4, "grid": false, "title": null, "disable": false}},
  "y2": {"field": "p2"}
 }},
{"data": {"name": "zones"}, "transform": [{"filter": "datum.kind == 'buy'"}],
 "mark": {"type": "rect", "color": "#7CFC00"},
 "encoding": {"x": {"field": "i1", "type": "quantitative"}, "x2": {"field": "i2"}, "y": {"field": "p1", "type": "quantitative"}, "y2": {"field": "p2"}}},
{"data": {"name": "levels"}, "transform": [{"filter": "datum.kind == 'fib'"}],
 "mark": {"type": "rule", "color": "#1E8C1E", "strokeWidth": 1, "strokeDash": [3, 3]},
 "encoding": {"y": {"field": "p", "type": "quantitative"}}},
{"data": {"name": "levels"}, "transform": [{"filter": "datum.kind == 'fsb'"}],
 "mark": {"type": "rule", "color": "#000030", "strokeWidth": 1, "strokeDash": [11, 6]},
 "encoding": {"y": {"field": "p", "type": "quantitative"}}},
{"data": {"name": "levels"}, "transform": [{"filter": "datum.kind == 'price'"}],
 "mark": {"type": "rule", "color": "#7088A8", "strokeWidth": 1},
 "encoding": {"y": {"field": "p", "type": "quantitative"}}},
{"data": {"name": "bands"}, "transform": [{"filter": "indexof(datum.line, 'o') == 0"}],
 "mark": {"type": "line", "color": "#FF4500", "strokeWidth": 1, "strokeDash": [3, 2], "interpolate": "linear"},
 "encoding": {"x": {"field": "i", "type": "quantitative"}, "y": {"field": "p", "type": "quantitative"}, "detail": {"field": "line"}, "order": {"field": "seq"}}},
{"data": {"name": "bands"}, "transform": [{"filter": "indexof(datum.line, 'b') == 0"}],
 "mark": {"type": "line", "color": "#6495ED", "strokeWidth": 1, "strokeDash": [4, 2], "interpolate": "linear"},
 "encoding": {"x": {"field": "i", "type": "quantitative"}, "y": {"field": "p", "type": "quantitative"}, "detail": {"field": "line"}, "order": {"field": "seq"}}},
{"data": {"name": "vlines"}, "transform": [{"filter": "datum.kind == 'day'"}],
 "mark": {"type": "rule", "color": "#000000", "strokeWidth": 1, "strokeDash": [3, 3]},
 "encoding": {"x": {"field": "i", "type": "quantitative"}}},
{"data": {"name": "vlines"}, "transform": [{"filter": "datum.kind == 'pink'"}],
 "mark": {"type": "rule", "color": "#FF69B4", "strokeWidth": 1, "strokeDash": [6, 3, 1, 3]},
 "encoding": {"x": {"field": "i", "type": "quantitative"}}},
{"data": {"name": "segments"}, "transform": [{"filter": "datum.kind == 'sellhunt'"}],
 "mark": {"type": "rule", "color": "#FF0000", "strokeWidth": 1, "strokeDash": [8, 3, 2, 3]},
 "encoding": {"x": {"field": "i1", "type": "quantitative"}, "x2": {"field": "i2"}, "y": {"field": "p", "type": "quantitative"}}},
{"data": {"name": "segments"}, "transform": [{"filter": "datum.kind == 'buyhunt'"}],
 "mark": {"type": "rule", "color": "#000000", "strokeWidth": 1, "strokeDash": [4, 3]},
 "encoding": {"x": {"field": "i1", "type": "quantitative"}, "x2": {"field": "i2"}, "y": {"field": "p", "type": "quantitative"}}},
{"data": {"name": "segments"}, "transform": [{"filter": "datum.kind == 'highshift'"}],
 "mark": {"type": "rule", "color": "#FFFFFF", "strokeWidth": 1, "strokeDash": [4, 2]},
 "encoding": {"x": {"field": "i1", "type": "quantitative"}, "x2": {"field": "i2"}, "y": {"field": "p", "type": "quantitative"}}},
{"data": {"name": "segments"}, "transform": [{"filter": "datum.kind == 'lowbefore'"}],
 "mark": {"type": "rule", "color": "#000000", "strokeWidth": 1},
 "encoding": {"x": {"field": "i1", "type": "quantitative"}, "x2": {"field": "i2"}, "y": {"field": "p", "type": "quantitative"}}},
{"data": {"name": "segments"}, "transform": [{"filter": "datum.kind == 'highest'"}],
 "mark": {"type": "rule", "color": "#ADFF2F", "strokeWidth": 1},
 "encoding": {"x": {"field": "i1", "type": "quantitative"}, "x2": {"field": "i2"}, "y": {"field": "p", "type": "quantitative"}}},
{"data": {"name": "segments"}, "transform": [{"filter": "datum.kind == 'crimson'"}],
 "mark": {"type": "rule", "color": "#DC143C", "strokeWidth": 1},
 "encoding": {"x": {"field": "i1", "type": "quantitative"}, "x2": {"field": "i2"}, "y": {"field": "p", "type": "quantitative"}}},
{"data": {"name": "segments"}, "transform": [{"filter": "datum.kind == 'purple'"}],
 "mark": {"type": "rule", "color": "#9932CC", "strokeWidth": 1},
 "encoding": {"x": {"field": "i1", "type": "quantitative"}, "x2": {"field": "i2"}, "y": {"field": "p", "type": "quantitative"}}},
{"data": {"name": "candles"},
 "mark": {"type": "rule", "color": "#000000", "strokeWidth": 1},
 "encoding": {"x": {"field": "i", "type": "quantitative"}, "y": {"field": "l", "type": "quantitative"}, "y2": {"field": "h"}}},
{"data": {"name": "candles"},
 "mark": {"type": "bar", "width": 3, "stroke": "#000000", "strokeWidth": 0.6, "orient": "vertical"},
 "encoding": {"x": {"field": "i", "type": "quantitative"}, "y": {"field": "o", "type": "quantitative"}, "y2": {"field": "c"},
  "fill": {"condition": {"test": "datum.c >= datum.o", "value": "#3CB371"}, "value": "#B22222"}}},
{"data": {"name": "emaSlow"},
 "mark": {"type": "line", "color": "#000000", "strokeWidth": 3.5},
 "encoding": {"x": {"field": "i", "type": "quantitative"}, "y": {"field": "p", "type": "quantitative"}}},
{"data": {"name": "emaMid"},
 "mark": {"type": "line", "color": "#00008B", "strokeWidth": 2},
 "encoding": {"x": {"field": "i", "type": "quantitative"}, "y": {"field": "p", "type": "quantitative"}}},
{"data": {"name": "emaFast"},
 "mark": {"type": "line", "color": "#FF0000", "strokeWidth": 3.5},
 "encoding": {"x": {"field": "i", "type": "quantitative"}, "y": {"field": "p", "type": "quantitative"}}},
{"data": {"name": "signals"}, "transform": [{"filter": "datum.type == 'star'"}],
 "mark": {"type": "point", "filled": true, "color": "#FFFF00", "opacity": 1, "size": 400, "shape": "M0,-1L0.2245,-0.309L0.9511,-0.309L0.3633,0.118L0.5878,0.809L0,0.382L-0.5878,0.809L-0.3633,0.118L-0.9511,-0.309L-0.2245,-0.309Z"},
 "encoding": {"x": {"field": "i", "type": "quantitative"}, "y": {"field": "p", "type": "quantitative"}}},
{"data": {"name": "signals"}, "transform": [{"filter": "datum.type == 'x'"}],
 "mark": {"type": "point", "filled": true, "color": "#FF9900", "opacity": 1, "size": 170, "shape": "M-1,-0.7L-0.7,-1L0,-0.3L0.7,-1L1,-0.7L0.3,0L1,0.7L0.7,1L0,0.3L-0.7,1L-1,0.7L-0.3,0Z"},
 "encoding": {"x": {"field": "i", "type": "quantitative"}, "y": {"field": "p", "type": "quantitative"}}},
{"data": {"name": "signals"}, "transform": [{"filter": "datum.type == 'up'"}],
 "mark": {"type": "point", "filled": true, "color": "#1428F0", "opacity": 1, "size": 200, "shape": "M0,-1L0.8,-0.1L0.3,-0.1L0.3,1L-0.3,1L-0.3,-0.1L-0.8,-0.1Z"},
 "encoding": {"x": {"field": "i", "type": "quantitative"}, "y": {"field": "p", "type": "quantitative"}}},
{"data": {"name": "signals"}, "transform": [{"filter": "datum.type == 'down'"}],
 "mark": {"type": "point", "filled": true, "color": "#F01010", "opacity": 1, "size": 200, "shape": "M0,1L0.8,0.1L0.3,0.1L0.3,-1L-0.3,-1L-0.3,0.1L-0.8,0.1Z"},
 "encoding": {"x": {"field": "i", "type": "quantitative"}, "y": {"field": "p", "type": "quantitative"}}},
{"data": {"name": "labels"}, "transform": [{"filter": "datum.kind == 'header'"}],
 "mark": {"type": "text", "align": "left", "baseline": "middle", "fontSize": 8.4, "font": "DejaVu Sans", "color": "#000000"},
 "encoding": {"x": {"field": "i", "type": "quantitative"}, "y": {"field": "p", "type": "quantitative"}, "text": {"field": "text"}}},
{"data": {"name": "labels"}, "transform": [{"filter": "datum.kind == 'stop'"}],
 "mark": {"type": "text", "align": "left", "baseline": "middle", "fontSize": 11, "font": "DejaVu Sans", "color": "#FF4500"},
 "encoding": {"x": {"field": "i", "type": "quantitative"}, "y": {"field": "p", "type": "quantitative"}, "text": {"field": "text"}}},
{"data": {"name": "labels"}, "transform": [{"filter": "datum.kind == 'entry'"}],
 "mark": {"type": "text", "align": "left", "baseline": "middle", "fontSize": 10.6, "font": "DejaVu Sans", "color": "#2F4F4F"},
 "encoding": {"x": {"field": "i", "type": "quantitative"}, "y": {"field": "p", "type": "quantitative"}, "text": {"field": "text"}}},
{"data": {"name": "labels"}, "transform": [{"filter": "datum.kind == 'note'"}],
 "mark": {"type": "text", "align": "left", "baseline": "middle", "fontSize": 11, "font": "DejaVu Sans", "color": "#111111"},
 "encoding": {"x": {"field": "i", "type": "quantitative"}, "y": {"field": "p", "type": "quantitative"}, "text": {"field": "text"}}},
{"data": {"name": "labels"}, "transform": [{"filter": "datum.kind == 'sell'"}],
 "mark": {"type": "text", "align": "left", "baseline": "middle", "fontSize": 11, "font": "DejaVu Sans", "color": "#A52A2A"},
 "encoding": {"x": {"field": "i", "type": "quantitative"}, "y": {"field": "p", "type": "quantitative"}, "text": {"field": "text"}}},
{"data": {"name": "labels"}, "transform": [{"filter": "datum.kind == 'fib'"}],
 "mark": {"type": "text", "align": "left", "baseline": "middle", "fontSize": 11, "font": "DejaVu Sans", "color": "#3C8D3C"},
 "encoding": {"x": {"field": "i", "type": "quantitative"}, "y": {"field": "p", "type": "quantitative"}, "text": {"field": "text"}}},
{"data": {"name": "labels"}, "transform": [{"filter": "datum.kind == 'big'"}],
 "mark": {"type": "text", "align": "left", "baseline": "middle", "fontSize": 15, "font": "DejaVu Sans", "color": "#000000"},
 "encoding": {"x": {"field": "i", "type": "quantitative"}, "y": {"field": "p", "type": "quantitative"}, "text": {"field": "text"}}},
{"data": {"name": "labels"}, "transform": [{"filter": "datum.kind == 'small'"}],
 "mark": {"type": "text", "align": "left", "baseline": "middle", "fontSize": 8, "font": "DejaVu Sans", "color": "#000000"},
 "encoding": {"x": {"field": "i", "type": "quantitative"}, "y": {"field": "p", "type": "quantitative"}, "text": {"field": "text"}}},
{"data": {"name": "labels"}, "transform": [{"filter": "datum.kind == 'corr'"}],
 "mark": {"type": "text", "align": "left", "baseline": "middle", "fontSize": 10, "font": "DejaVu Sans", "color": "#0000FF", "clip": true},
 "encoding": {"x": {"field": "i", "type": "quantitative"}, "y": {"field": "p", "type": "quantitative"}, "text": {"field": "text"}}},
{"data": {"name": "labels"}, "transform": [{"filter": "datum.kind == 'wave'"}],
 "mark": {"type": "text", "align": "left", "baseline": "middle", "fontSize": 13, "font": "DejaVu Sans", "color": "#000000"},
 "encoding": {"x": {"field": "i", "type": "quantitative"}, "y": {"field": "p", "type": "quantitative"}, "text": {"field": "text"}}},
{"data": {"name": "labels"}, "transform": [{"filter": "datum.kind == 'waveblue'"}],
 "mark": {"type": "text", "align": "left", "baseline": "middle", "fontSize": 13, "font": "DejaVu Sans", "color": "#4169E1"},
 "encoding": {"x": {"field": "i", "type": "quantitative"}, "y": {"field": "p", "type": "quantitative"}, "text": {"field": "text"}}},
{"data": {"name": "yticks"},
 "mark": {"type": "text", "align": "left", "baseline": "middle", "fontSize": 8, "font": "DejaVu Sans", "color": "#000000"},
 "encoding": {"x": {"datum": 308.5, "type": "quantitative"}, "y": {"field": "p", "type": "quantitative"}, "text": {"field": "p", "type": "quantitative", "format": ".3f"}}},
{"data": {"name": "tags"}, "transform": [{"filter": "datum.p == 2115.91 || datum.p == 2097.9 || datum.p == 2180.084"}],
 "mark": {"type": "point", "filled": true, "opacity": 1, "size": 169, "shape": "M-3.54,-1L3.54,-1L3.54,1L-3.54,1Z", "color": "#2A8A2A"},
 "encoding": {"x": {"datum": 313, "type": "quantitative"}, "y": {"field": "p", "type": "quantitative"}}},
{"data": {"name": "tags"}, "transform": [{"filter": "datum.p == 2115.91 || datum.p == 2097.9 || datum.p == 2180.084"}],
 "mark": {"type": "text", "align": "center", "baseline": "middle", "fontSize": 8, "font": "DejaVu Sans", "color": "#F0F0F0"},
 "encoding": {"x": {"datum": 313, "type": "quantitative"}, "y": {"field": "p", "type": "quantitative"}, "text": {"field": "text"}}},
{"data": {"name": "tags"}, "transform": [{"filter": "!(datum.p == 2115.91 || datum.p == 2097.9 || datum.p == 2180.084)"}],
 "mark": {"type": "point", "filled": true, "opacity": 1, "size": 169, "shape": "M-3.54,-1L3.54,-1L3.54,1L-3.54,1Z"},
 "encoding": {"x": {"datum": 313, "type": "quantitative"}, "y": {"field": "p", "type": "quantitative"},
  "fill": {"field": "kind", "type": "nominal", "legend": null, "scale": {"domain": ["price", "fsb", "fib"], "range": ["#000000", "#0000FF", "#2A8A2A"]}}}},
{"data": {"name": "tags"}, "transform": [{"filter": "!(datum.p == 2115.91 || datum.p == 2097.9 || datum.p == 2180.084)"}],
 "mark": {"type": "text", "align": "center", "baseline": "middle", "fontSize": 8, "font": "DejaVu Sans", "color": "#F0F0F0"},
 "encoding": {"x": {"datum": 313, "type": "quantitative"}, "y": {"field": "p", "type": "quantitative"}, "text": {"field": "text"}}}
]
}
